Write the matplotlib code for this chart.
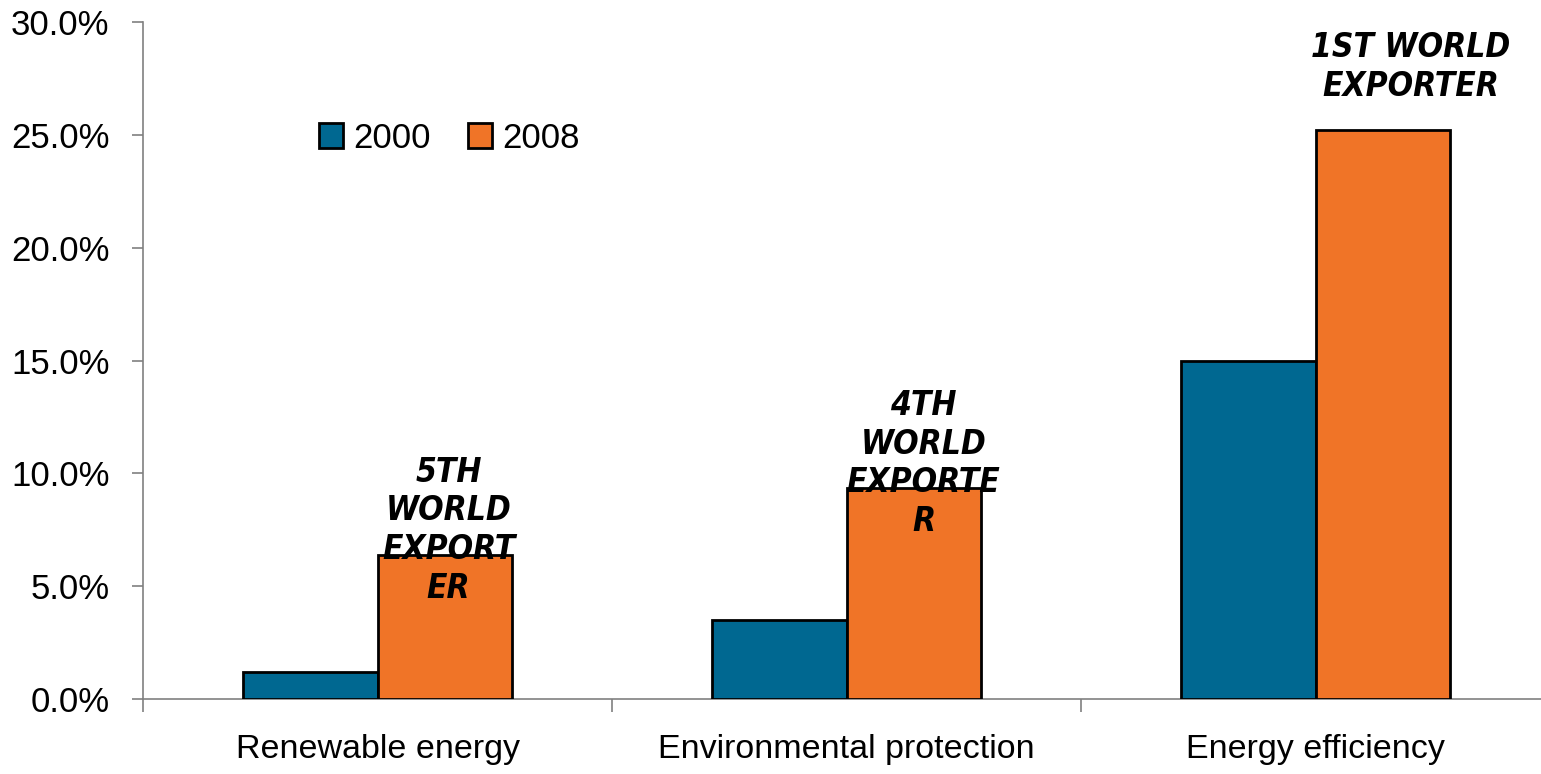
import matplotlib
matplotlib.use("Agg")
import matplotlib.pyplot as plt
import numpy as np
from matplotlib.ticker import FixedLocator, FuncFormatter

# Share of world exports by sector
categories = ["Renewable energy", "Environmental protection", "Energy efficiency"]
series_names = ["2000", "2008"]
values_2000 = [1.2, 3.5, 15.0]
values_2008 = [6.4, 9.35, 25.2]
rank_labels = ["5TH\nWORLD\nEXPORT\nER", "4TH\nWORLD\nEXPORTE\nR", "1ST WORLD\nEXPORTER"]

COL_2000 = "#006891"
COL_2008 = "#F07427"
AXIS_GRAY = "#808080"

plt.rcParams["font.family"] = ["Liberation Sans", "DejaVu Sans"]

fig = plt.figure(figsize=(15.41, 7.74), dpi=100)
ax = fig.add_axes([143 / 1541, 75 / 774, 1407 / 1541, 677 / 774])

x = np.arange(len(categories))
w = 0.286
bars0 = ax.bar(x - w / 2, values_2000, w, color=COL_2000, edgecolor="black",
               linewidth=2.0, label=series_names[0], zorder=3)
bars1 = ax.bar(x + w / 2, values_2008, w, color=COL_2008, edgecolor="black",
               linewidth=2.0, label=series_names[1], zorder=3)

ax.set_xlim(-0.5, len(categories) - 0.5)
ax.set_ylim(0, 30)

for s in ("top", "right"):
    ax.spines[s].set_visible(False)
for s in ("left", "bottom"):
    ax.spines[s].set_color(AXIS_GRAY)
    ax.spines[s].set_linewidth(1.2)

ax.yaxis.set_major_locator(FixedLocator(np.arange(0, 30.1, 5)))
ax.yaxis.set_major_formatter(FuncFormatter(lambda v, p: f"{v:.1f}%"))
ax.tick_params(axis="y", direction="out", length=8, width=1.2, color=AXIS_GRAY,
               labelsize=25, pad=16)

ax.set_xticks(x)
ax.set_xticklabels(categories)
ax.tick_params(axis="x", which="major", length=0, labelsize=24.5, pad=25)
ax.set_xticks(np.arange(-0.5, len(categories)), minor=True)
ax.tick_params(axis="x", which="minor", direction="out", length=9, width=1.2,
               color=AXIS_GRAY)

# Rank annotations above the 2008 bars
dx_px = [4, 10, 28]
for b, lab, dx in zip(bars1, rank_labels, dx_px):
    ax.annotate(lab, xy=(b.get_x() + b.get_width() / 2, b.get_height()),
                xytext=(dx * 0.72, 99 * 0.72), textcoords="offset points",
                ha="center", va="top", fontsize=24, fontweight="bold",
                fontstyle="italic", fontstretch="condensed",
                family="DejaVu Sans", linespacing=1.22, zorder=5)

leg = ax.legend(loc="center left", bbox_to_anchor=(319 / 1541, 1 - 138 / 774),
                bbox_transform=fig.transFigure, ncol=2, frameon=False,
                fontsize=25, handlelength=0.7, handleheight=0.7,
                handletextpad=0.3, columnspacing=1.05, borderpad=0,
                borderaxespad=0)

fig.savefig("out.png", dpi=100)
